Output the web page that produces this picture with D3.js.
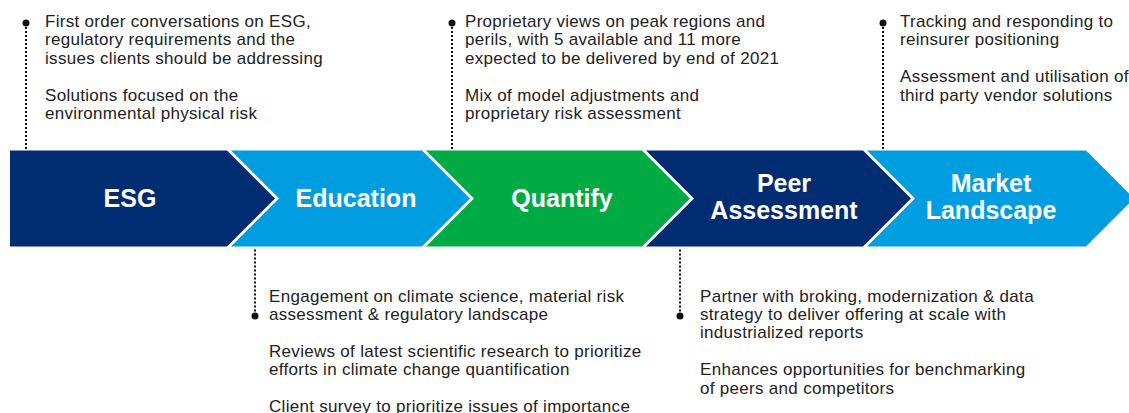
<!DOCTYPE html>
<html>
  <head>
    <meta charset="utf-8">
    <title>ESG journey</title>
    <script src="https://d3js.org/d3.v7.min.js"></script>
    <style>
      body { margin: 0; background: #fff; }
      text { font-family: "Liberation Sans", Arial, sans-serif; }
    </style>
  </head>
  <body>
  <script type="text/javascript">
    // stages, left to right (each entry = lines of the label)
    var stageLines = [["ESG"], ["Education"], ["Quantify"], ["Peer", "Assessment"], ["Market", "Landscape"]];
    var stageNames = stageLines.map(function(d){ return d.join(" ") });
    // which side of the arrow each stage's notes sit on
    var noteSide = ["top", "bottom", "top", "bottom", "top"];
    // notes: paragraphs -> lines
    var notes = [
      [["First order conversations on ESG,", "regulatory requirements and the", "issues clients should be addressing"],
       ["Solutions focused on the", "environmental physical risk"]],
      [["Engagement on climate science, material risk", "assessment & regulatory landscape"],
       ["Reviews of latest scientific research to prioritize", "efforts in climate change quantification"],
       ["Client survey to prioritize issues of importance"]],
      [["Proprietary views on peak regions and", "perils, with 5 available and 11 more", "expected to be delivered by end of 2021"],
       ["Mix of model adjustments and", "proprietary risk assessment"]],
      [["Partner with broking, modernization & data", "strategy to deliver offering at scale with", "industrialized reports"],
       ["Enhances opportunities for benchmarking", "of peers and competitors"]],
      [["Tracking and responding to", "reinsurer positioning"],
       ["Assessment and utilisation of", "third party vendor solutions"]]
    ];

    var W = 1129, H = 413;
    var svg = d3.select('body')
                .append('svg')
                .attr('width', W)
                .attr('height', H);

    // layout scales
    var x = d3.scaleLinear().domain([0, 1, 2, 3, 4, 5]).range([10, 227, 422, 642, 863, 1086]);
    var y = d3.scaleLinear().domain([0, 1]).range([150.5, 246.5]);
    var labelX = d3.scaleLinear().domain([0, 1, 2, 3, 4]).range([130, 356, 562, 784, 991]);
    var dotX = d3.scaleLinear().domain([0, 1, 2, 3, 4]).range([26, 255, 452, 680, 883]);
    var noteX = d3.scaleLinear().domain([0, 1, 2, 3, 4]).range([45, 269, 465, 700, 900]);
    var color = d3.scaleOrdinal().domain(stageNames)
                  .range(["#002d72", "#009ee0", "#00ab44", "#002d72", "#009ee0"]);
    var depth = 48, gap = 4, lineH = 18.4;
    var mid = y(0.5);

    function chevron(i){
      var l = x(i) + (i > 0 ? gap : 0), r = x(i + 1);
      var pts = [[l, y(0)], [r, y(0)], [r + depth, mid], [r, y(1)], [l, y(1)]];
      if (i > 0) pts.push([l + depth, mid]);
      return d3.line()(pts) + 'Z';
    }

    var stages = svg.selectAll('g.stage')
       .data(stageLines)
       .enter()
       .append('g')
       .attr('class', 'stage');

    stages.append('path')
          .attr('d', function(d, i){ return chevron(i) })
          .attr('fill', function(d, i){ return color(stageNames[i]) });

    stages.append('text')
          .attr('text-anchor', 'middle')
          .attr('fill', '#fff')
          .attr('font-size', 25)
          .attr('font-weight', 'bold')
          .selectAll('tspan')
          .data(function(d, i){ return d.map(function(t, k){ return {t: t, k: k, n: d.length, i: i} }) })
          .enter()
          .append('tspan')
          .attr('x', function(d){ return labelX(d.i) })
          .attr('y', function(d){
            var base = d.n > 1 ? mid + 7 : mid + 8.5;
            return base + (d.k - (d.n - 1) / 2) * 27;
          })
          .text(function(d){ return d.t });

    // callouts
    var topDotY = 23, botDotY = 316;
    var call = svg.selectAll('g.note')
       .data(notes)
       .enter()
       .append('g')
       .attr('class', 'note');

    call.append('line')
        .attr('x1', function(d, i){ return dotX(i) })
        .attr('x2', function(d, i){ return dotX(i) })
        .attr('y1', function(d, i){ return noteSide[i] == 'top' ? topDotY : y(1) + 3 })
        .attr('y2', function(d, i){ return noteSide[i] == 'top' ? y(0) - 1 : botDotY })
        .attr('stroke', '#111')
        .attr('stroke-width', 2)
        .attr('stroke-dasharray', '2 2');

    call.append('circle')
        .attr('cx', function(d, i){ return dotX(i) })
        .attr('cy', function(d, i){ return noteSide[i] == 'top' ? topDotY : botDotY })
        .attr('r', 3.5)
        .attr('fill', '#111');

    call.append('text')
        .attr('font-size', 17)
        .attr('letter-spacing', 0.3)
        .attr('fill', '#222')
        .selectAll('tspan')
        .data(function(d, i){
          var out = [], row = 0;
          d.forEach(function(para){
            para.forEach(function(t){ out.push({t: t, row: row, i: i}); row++ });
            row++;
          });
          return out;
        })
        .enter()
        .append('tspan')
        .attr('x', function(d){ return noteX(d.i) })
        .attr('y', function(d){
          var base = noteSide[d.i] == 'top' ? 27 : 301.5;
          return base + d.row * lineH;
        })
        .text(function(d){ return d.t });
  </script>
  </body>
</html>
